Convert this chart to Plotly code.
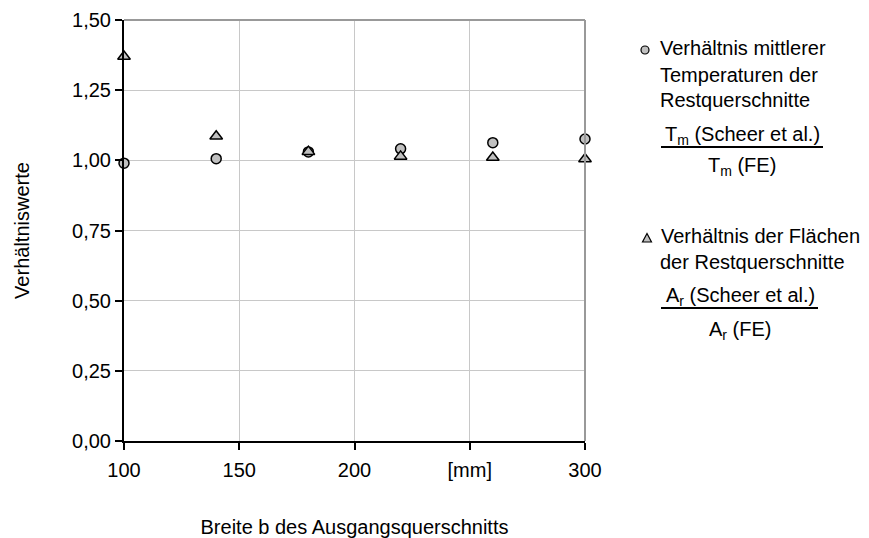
import plotly.graph_objects as go

# ---- data ----
breite = [100, 140, 180, 220, 260, 300]
verh_temperatur = [0.99, 1.006, 1.03, 1.041, 1.063, 1.076]
verh_flaeche = [1.37, 1.086, 1.031, 1.014, 1.01, 1.005]
x_tickvals = [100, 150, 200, 250, 300]
x_ticktext = ["100", "150", "200", "[mm]", "300"]
y_tickvals = [0, 0.25, 0.5, 0.75, 1.0, 1.25, 1.5]

FONT = "Liberation Sans, Arial, sans-serif"
W, H = 869, 538
L, R, T, B = 124, 585, 20, 441


def px(x):
    return (x - L) / (R - L)


def py(y):
    return (B - y) / (B - T)


fig = go.Figure()
fig.add_trace(go.Scatter(
    x=breite, y=verh_temperatur, mode="markers", cliponaxis=False,
    marker=dict(symbol="circle", size=10, color="#c0c0c0",
                line=dict(color="black", width=1.5)),
    showlegend=False))
fig.add_trace(go.Scatter(
    x=breite, y=verh_flaeche, mode="markers", cliponaxis=False,
    marker=dict(symbol="triangle-up", size=11, color="#c0c0c0",
                line=dict(color="black", width=1.5)),
    showlegend=False))

shapes = []
# grey top/right border
shapes.append(dict(type="line", xref="paper", yref="paper", x0=0, x1=1, y0=1, y1=1,
                   line=dict(color="#999999", width=2)))
shapes.append(dict(type="line", xref="paper", yref="paper", x0=1, x1=1, y0=0, y1=1,
                   line=dict(color="#999999", width=2)))
# fraction lines
shapes.append(dict(type="line", xref="paper", yref="paper", x0=px(661), x1=px(823),
                   y0=py(147), y1=py(147), line=dict(color="black", width=2)))
shapes.append(dict(type="line", xref="paper", yref="paper", x0=px(661), x1=px(818),
                   y0=py(308), y1=py(308), line=dict(color="black", width=2)))
# legend symbols
cx, cy, r = 645, 50, 4
shapes.append(dict(type="circle", xref="paper", yref="paper",
                   x0=px(cx - r), x1=px(cx + r), y0=py(cy + r), y1=py(cy - r),
                   fillcolor="#c0c0c0", line=dict(color="black", width=1.2)))
tx, ty = 647, 238
path = "M {:.5f},{:.5f} L {:.5f},{:.5f} L {:.5f},{:.5f} Z".format(
    px(tx - 4.5), py(ty + 4), px(tx + 4.5), py(ty + 4), px(tx), py(ty - 4.5))
shapes.append(dict(type="path", xref="paper", yref="paper", path=path,
                   fillcolor="#c0c0c0", line=dict(color="black", width=1.2)))

annotations = []


def ann(text, x, y, xanchor="left"):
    annotations.append(dict(text=text, x=px(x), y=py(y), xref="paper", yref="paper",
                            xanchor=xanchor, yanchor="middle", showarrow=False,
                            font=dict(family=FONT, size=20, color="black")))


ann("Verhältnis mittlerer", 658, 48)
ann("Temperaturen der", 658, 75)
ann("Restquerschnitte", 658, 100)
ann("T<sub>m</sub> (Scheer et al.)", 742, 135, "center")
ann("T<sub>m</sub> (FE)", 742, 166, "center")
ann("Verhältnis der Flächen", 659, 236)
ann("der Restquerschnitte", 658, 262)
ann("A<sub>r</sub> (Scheer et al.)", 740, 296, "center")
ann("A<sub>r</sub> (FE)", 740, 330, "center")

fig.update_layout(
    width=W, height=H,
    margin=dict(l=L, r=W - R, t=T, b=H - B),
    paper_bgcolor="white", plot_bgcolor="white",
    font=dict(family=FONT, size=20, color="black"),
    separators=", ",
    shapes=shapes, annotations=annotations,
    xaxis=dict(range=[100, 300], tickvals=x_tickvals, ticktext=x_ticktext,
               showgrid=True, gridcolor="#c8c8c8", gridwidth=1,
               showline=True, linecolor="black", linewidth=2,
               ticks="outside", ticklen=7, tickwidth=1.5, tickcolor="black",
               ticklabelstandoff=3, automargin=False,
               zeroline=False,
               title=dict(text="Breite b des Ausgangsquerschnitts", standoff=40,
                          font=dict(size=20))),
    yaxis=dict(range=[0, 1.5], tickvals=y_tickvals, tickformat=".2f",
               showgrid=True, gridcolor="#c8c8c8", gridwidth=1,
               showline=True, linecolor="black", linewidth=2,
               ticks="outside", ticklen=7, tickwidth=1.5, tickcolor="black",
               automargin=False,
               zeroline=False,
               title=dict(text="Verhältniswerte", standoff=37, font=dict(size=20))),
)

fig.write_html("out.html")
